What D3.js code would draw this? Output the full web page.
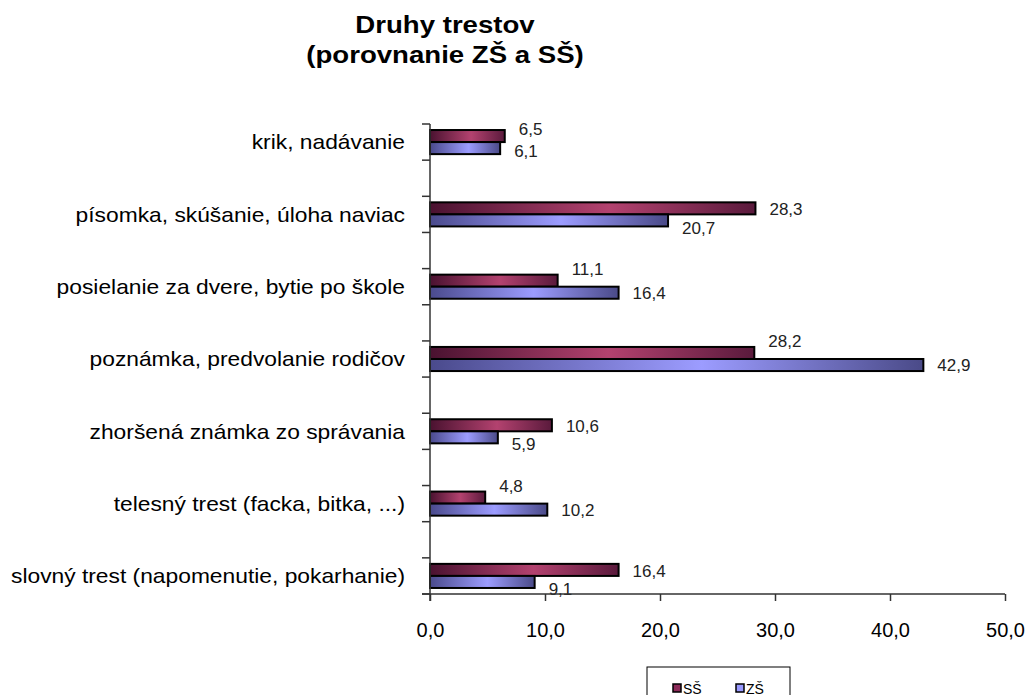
<!DOCTYPE html>
<html>
<head>
<meta charset="utf-8">
<script src="https://cdn.jsdelivr.net/npm/d3@7"></script>
<style>
  body { margin: 0; background: #fff; }
  text { font-family: "Liberation Sans", Arial, sans-serif; }
</style>
</head>
<body>
<div id="chart"></div>
<script>
// Druhy trestov - ZŠ vs SŠ

var categories = ["krik, nadávanie", "písomka, skúšanie, úloha naviac", "posielanie za dvere, bytie po škole",
  "poznámka, predvolanie rodičov", "zhoršená známka zo správania", "telesný trest (facka, bitka, ...)",
  "slovný trest (napomenutie, pokarhanie)"];
var seriesNames = ["SŠ", "ZŠ"];
var valuesSS = [6.5, 28.3, 11.1, 28.2, 10.6, 4.8, 16.4];
var valuesZS = [6.1, 20.7, 16.4, 42.9, 5.9, 10.2, 9.1];
var xTicks = [0, 10, 20, 30, 40, 50];

var rows = categories.map(function(c, i) {
  return {cat: c, "SŠ": valuesSS[i], "ZŠ": valuesZS[i]};
});

var W = 1027, H = 695;
var plotLeft = 430, plotRight = 1005, plotTop = 124, plotBottom = 594;

var svg = d3.select("#chart").append("svg")
  .attr("width", W)
  .attr("height", H);

var defs = svg.append("defs");
var grad = {
  "SŠ": ["#4a1230", "#b3426f", "#5a1a3c"],
  "ZŠ": ["#4a4a8c", "#9c9cff", "#4a4a88"]
};
seriesNames.forEach(function(k, i) {
  var lg = defs.append("linearGradient").attr("id", "g" + i)
    .attr("x1", "0").attr("x2", "1").attr("y1", "0").attr("y2", "0");
  lg.append("stop").attr("offset", "0").attr("stop-color", grad[k][0]);
  lg.append("stop").attr("offset", "0.55").attr("stop-color", grad[k][1]);
  lg.append("stop").attr("offset", "1").attr("stop-color", grad[k][2]);
});

var x = d3.scaleLinear().domain([0, 50]).range([plotLeft, plotRight]);
// 7 bands with half-step gaps, last band ends on the x axis
var y0 = d3.scaleBand().domain(categories).range([plotTop, plotBottom])
  .paddingInner(0.5).paddingOuter(0);
var y1 = d3.scaleBand().domain(seriesNames).range([0, y0.bandwidth()]).paddingInner(0).paddingOuter(0.5);

// shift labels apart like excel does when they collide
function labelShift(d) {
  var diff = d.row["SŠ"] - d.row["ZŠ"];
  if (Math.abs(diff) < 1) return d.idx == 0 ? -7 : 3;
  if (diff < 0) return d.idx == 0 ? -12 : 0;
  return d.idx == 0 ? 1 : 7;
}

// title
var title = svg.append("g").attr("transform", "translate(445,0) scale(1.2,1)");
title.append("text")
  .attr("x", 0).attr("y", 33)
  .attr("text-anchor", "middle")
  .attr("font-size", "23px").attr("font-weight", "bold")
  .text("Druhy trestov");
title.append("text")
  .attr("x", 0).attr("y", 63)
  .attr("text-anchor", "middle")
  .attr("font-size", "23px").attr("font-weight", "bold")
  .text("(porovnanie ZŠ a SŠ)");

// bars
var g = svg.append("g");
var grp = g.selectAll("g.cat")
  .data(rows)
  .enter().append("g")
    .attr("class", "cat")
    .attr("transform", function(d) { return "translate(0," + y0(d.cat) + ")"; });

function pairs(d) {
  return seriesNames.map(function(k, i) { return {key: k, idx: i, value: d[k], row: d}; });
}

grp.selectAll("rect")
  .data(pairs)
  .enter().append("rect")
    .attr("x", x(0))
    .attr("y", function(d) { return y1(d.key); })
    .attr("width", function(d) { return x(d.value) - x(0); })
    .attr("height", y1.bandwidth())
    .attr("fill", function(d) { return "url(#g" + d.idx + ")"; })
    .attr("stroke", "#000")
    .attr("stroke-width", 2);

grp.selectAll("text.val")
  .data(pairs)
  .enter().append("text")
    .attr("class", "val")
    .attr("x", function(d) { return x(d.value) + 14; })
    .attr("y", function(d) { return y1(d.key) + y1.bandwidth() / 2 + labelShift(d); })
    .attr("dy", "0.36em")
    .attr("font-size", "17px")
    .attr("fill", "#222")
    .text(function(d) { return d3.format(".1f")(d.value).replace(".", ","); });

// y axis
var yAxis = svg.append("g").attr("stroke", "#333");
yAxis.append("line")
  .attr("x1", plotLeft).attr("x2", plotLeft)
  .attr("y1", plotTop).attr("y2", plotBottom + 7)
  .attr("stroke-width", 1.5);
var yTickPos = [];
categories.forEach(function(c) { yTickPos.push(y0(c)); yTickPos.push(y0(c) + y0.bandwidth()); });
yAxis.selectAll("line.t")
  .data(yTickPos)
  .enter().append("line")
    .attr("class", "t")
    .attr("x1", plotLeft - 8).attr("x2", plotLeft)
    .attr("y1", function(d) { return d; }).attr("y2", function(d) { return d; })
    .attr("stroke-width", 1.5);

svg.append("g").selectAll("text")
  .data(categories)
  .enter().append("text")
    .attr("transform", function(d) { return "translate(405," + (y0(d) + y0.bandwidth() / 2) + ") scale(1.14,1)"; })
    .attr("dy", "0.36em")
    .attr("text-anchor", "end")
    .attr("font-size", "20px")
    .attr("fill", "#000")
    .text(function(d) { return d; });

// x axis
var xAxis = svg.append("g")
  .attr("transform", "translate(0," + plotBottom + ")")
  .call(d3.axisBottom(x).tickValues(xTicks).tickSize(7).tickPadding(22)
    .tickFormat(function(d) { return d3.format(".1f")(d).replace(".", ","); }));
xAxis.select(".domain").attr("stroke", "#333").attr("stroke-width", 1.5)
  .attr("d", "M" + (plotLeft - 8) + ",0H" + plotRight);
xAxis.selectAll(".tick line").attr("stroke", "#333").attr("stroke-width", 1.5);
xAxis.selectAll(".tick text")
  .attr("font-size", "20px")
  .attr("font-family", "Liberation Sans, Arial, sans-serif")
  .attr("fill", "#000");

// legend
var leg = svg.append("g").attr("transform", "translate(647,667)");
leg.append("rect")
  .attr("x", 0).attr("y", 0).attr("width", 143).attr("height", 40)
  .attr("fill", "#fff").attr("stroke", "#000").attr("stroke-width", 1);
var legColors = ["#8c2a58", "#9999ff"];
seriesNames.forEach(function(k, i) {
  leg.append("rect")
    .attr("x", 26 + i * 63).attr("y", 17).attr("width", 8).attr("height", 8)
    .attr("fill", legColors[i]).attr("stroke", "#000").attr("stroke-width", 1.5);
  leg.append("text")
    .attr("x", 36 + i * 63).attr("y", 27)
    .attr("font-size", "14px")
    .text(k);
});
</script>
</body>
</html>
